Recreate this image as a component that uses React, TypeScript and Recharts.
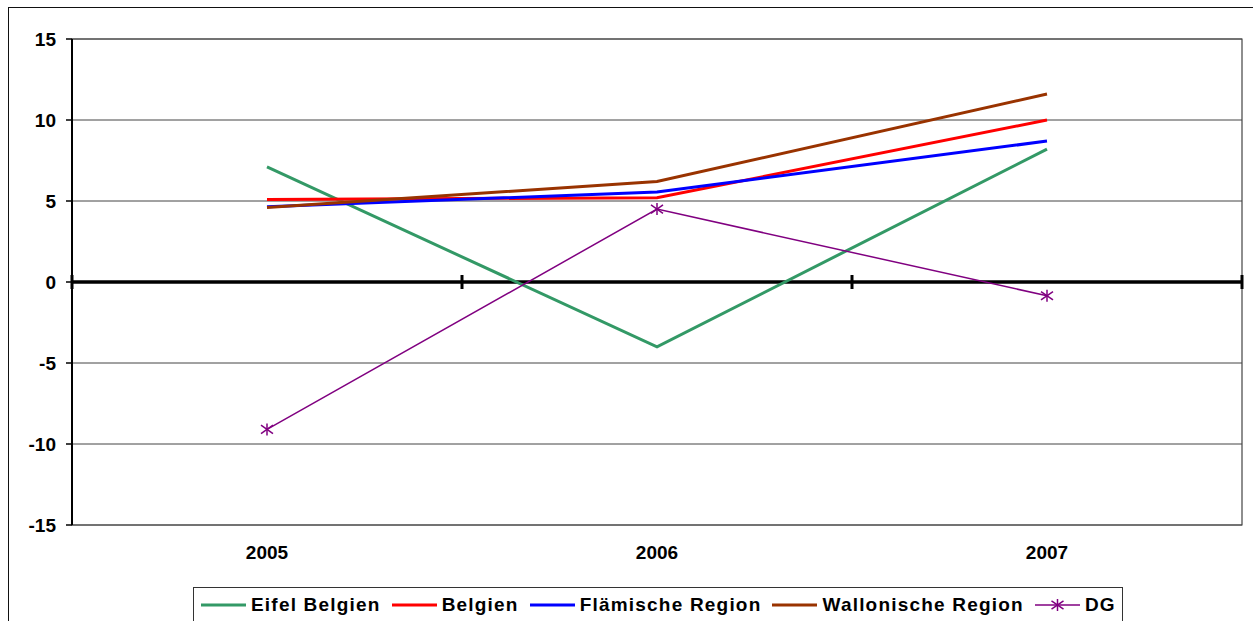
import { LineChart, Line, XAxis, YAxis, CartesianGrid, ReferenceLine, ReferenceArea } from "recharts";

const years = ["2005", "2006", "2007"];
const eifelBelgien = [7.1, -4.0, 8.2];
const belgien = [5.1, 5.2, 10.0];
const flaemischeRegion = [4.65, 5.55, 8.7];
const wallonischeRegion = [4.6, 6.2, 11.6];
const dg = [-9.1, 4.5, -0.85];
const yTicks = [-15, -10, -5, 0, 5, 10, 15];

const series = [
  { key: "eifel", name: "Eifel Belgien", values: eifelBelgien, color: "#339966", width: 3, star: false },
  { key: "belgien", name: "Belgien", values: belgien, color: "#FF0000", width: 3, star: false },
  { key: "flaemisch", name: "Flämische Region", values: flaemischeRegion, color: "#0000FF", width: 3, star: false },
  { key: "wallonisch", name: "Wallonische Region", values: wallonischeRegion, color: "#993300", width: 3, star: false },
  { key: "dg", name: "DG", values: dg, color: "#800080", width: 1.5, star: true },
];

const data = years.map((year, i) => {
  const row: Record<string, string | number> = { year };
  series.forEach((s) => (row[s.key] = s.values[i]));
  return row;
});

const FONT = "'Liberation Sans', Arial, sans-serif";

// asterisk marker: vertical stroke plus an X
function StarDot(props: any) {
  const { cx, cy, stroke } = props;
  if (cx == null || cy == null) return null;
  const r = 6;
  return (
    <g stroke={stroke} strokeWidth={1.5}>
      <line x1={cx} y1={cy - r} x2={cx} y2={cy + r} />
      <line x1={cx - r} y1={cy - r * 0.7} x2={cx + r} y2={cy + r * 0.7} />
      <line x1={cx - r} y1={cy + r * 0.7} x2={cx + r} y2={cy - r * 0.7} />
    </g>
  );
}

// zero axis with tick marks on the category boundaries
function ZeroAxis(props: any) {
  const { x1, y1, x2 } = props;
  const step = (x2 - x1) / years.length;
  const marks = Array.from({ length: years.length + 1 }, (_, i) => x1 + i * step);
  return (
    <g stroke="#000">
      <line x1={x1} y1={y1} x2={x2} y2={y1} strokeWidth={3.5} />
      {marks.map((x) => (
        <line key={x} x1={x} y1={y1 - 7} x2={x} y2={y1 + 7} strokeWidth={3} />
      ))}
    </g>
  );
}

function LegendBox() {
  return (
    <div
      style={{
        position: "absolute",
        left: 193,
        top: 587,
        height: 40,
        display: "flex",
        alignItems: "flex-start",
        paddingTop: 6,
        paddingLeft: 7,
        paddingRight: 6,
        boxSizing: "border-box",
        border: "1px solid #333",
        background: "#fff",
        fontFamily: FONT,
        fontWeight: "bold",
        fontSize: 19,
        letterSpacing: 1.2,
        color: "#000",
        whiteSpace: "nowrap",
      }}
    >
      {series.map((s, i) => (
        <div key={s.key} style={{ display: "flex", alignItems: "center", marginLeft: i === 0 ? 0 : 11 }}>
          <svg width={45} height={20} style={{ marginRight: 5 }}>
            <line x1={0} y1={10} x2={45} y2={10} stroke={s.color} strokeWidth={s.width} />
            {s.star && <StarDot cx={22.5} cy={10} stroke={s.color} />}
          </svg>
          <span>{s.name}</span>
        </div>
      ))}
    </div>
  );
}

export default function App() {
  return (
    <div style={{ position: "absolute", left: 0, top: 0, width: 1253, height: 621, overflow: "hidden", background: "#fff" }}>
      <div
        style={{
          position: "absolute",
          left: 8,
          top: 7,
          width: 1300,
          height: 700,
          borderLeft: "1.5px solid #111",
          borderTop: "1.5px solid #111",
        }}
      />
      <div style={{ position: "absolute", left: 0, top: 0 }}>
        <LineChart width={1253} height={621} data={data} margin={{ top: 39, right: 11, left: 12, bottom: 56 }}>
          <CartesianGrid vertical={false} stroke="#444" strokeWidth={1} />
          <ReferenceArea y1={-15} y2={15} fill="none" stroke="#444" strokeWidth={1.2} />
          <XAxis
            dataKey="year"
            scale="band"
            axisLine={false}
            tickLine={false}
            tickSize={0}
            tickMargin={21}
            height={40}
            tick={{ fontFamily: FONT, fontWeight: "bold", fontSize: 19, fill: "#000" }}
          />
          <YAxis
            domain={[-15, 15]}
            ticks={yTicks}
            width={60}
            axisLine={{ stroke: "#000", strokeWidth: 2 }}
            tickLine={{ stroke: "#000", strokeWidth: 1.5 }}
            tickSize={6}
            tickMargin={10}
            tick={{ fontFamily: FONT, fontWeight: "bold", fontSize: 19, fill: "#000" }}
          />
          <ReferenceLine y={0} shape={<ZeroAxis />} />
          {series.map((s) => (
            <Line
              key={s.key}
              dataKey={s.key}
              name={s.name}
              type="linear"
              stroke={s.color}
              strokeWidth={s.width}
              dot={s.star ? <StarDot /> : false}
              activeDot={false}
              isAnimationActive={false}
            />
          ))}
        </LineChart>
      </div>
      <LegendBox />
    </div>
  );
}
